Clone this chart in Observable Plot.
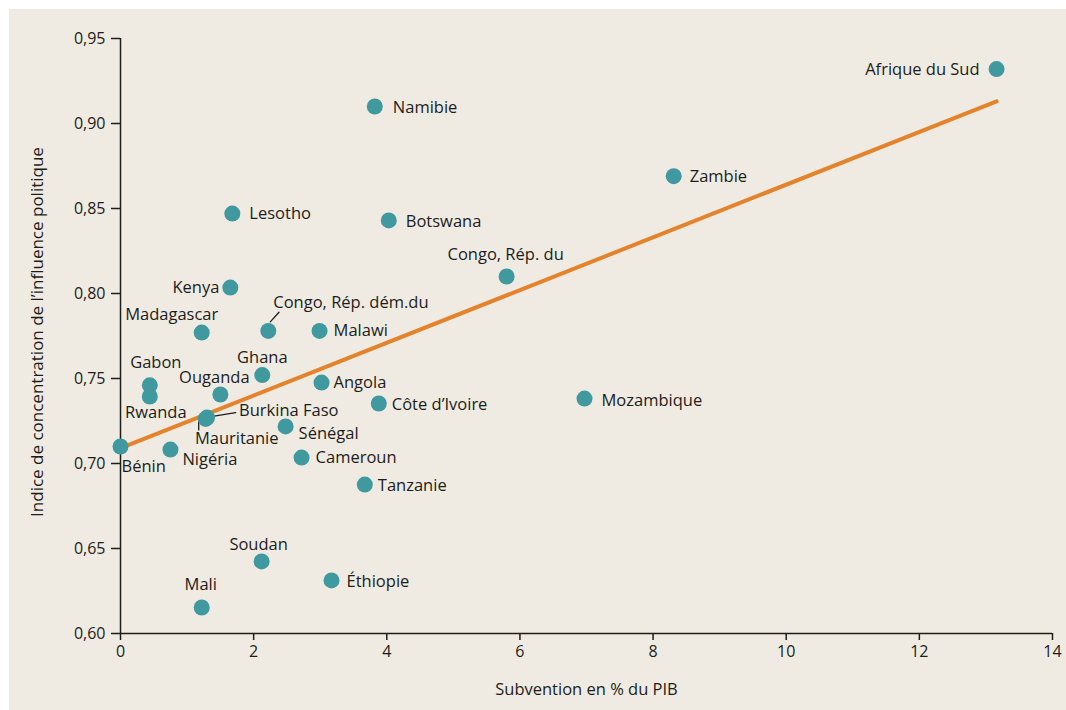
<!DOCTYPE html>
<html><head><meta charset="utf-8">
<script src="https://cdn.jsdelivr.net/npm/d3@7"></script>
<script src="https://cdn.jsdelivr.net/npm/@observablehq/plot@0.6"></script>
<style>
body{margin:0;background:#fff;}
#c{position:absolute;left:9px;top:9px;width:1057px;height:701px;background:#efebe2;}
#c svg{display:block;}
</style></head><body><div id="c"></div>
<script>
const countries = ["Afrique du Sud","Namibie","Zambie","Lesotho","Botswana","Congo, Rép. du","Kenya","Madagascar","Congo, Rép. dém.du","Malawi","Ghana","Gabon","Rwanda","Ouganda","Angola","Côte d’Ivoire","Mozambique","Burkina Faso","Mauritanie","Sénégal","Bénin","Nigéria","Cameroun","Tanzanie","Soudan","Éthiopie","Mali"];
const subvention = [13.16,3.82,8.31,1.68,4.03,5.80,1.65,1.22,2.22,2.99,2.13,0.44,0.44,1.50,3.02,3.88,6.97,1.30,1.28,2.48,0.00,0.75,2.72,3.67,2.12,3.17,1.22];
const indice = [0.932,0.910,0.869,0.847,0.843,0.810,0.8035,0.777,0.778,0.778,0.752,0.746,0.7394,0.7406,0.7476,0.7353,0.7382,0.7270,0.7262,0.7218,0.710,0.7082,0.7035,0.6876,0.6424,0.6312,0.6153];
const trendX = [0, 13.16];
const trendY = [0.709, 0.913];
const xTicks = [0,2,4,6,8,10,12,14];
const yTicks = [0.60,0.65,0.70,0.75,0.80,0.85,0.90,0.95];
const xLabel = "Subvention en % du PIB";
const yLabel = "Indice de concentration de l’influence politique";

// label placement (pixel offsets, anchor)
const placement = {
  "Afrique du Sud":[-17,1,"end"], "Namibie":[18,1,"start"], "Zambie":[16,1,"start"],
  "Lesotho":[17,0,"start"], "Botswana":[17,1,"start"], "Congo, Rép. du":[-1,-22,"middle"],
  "Kenya":[-11,0,"end"], "Madagascar":[-30,-18,"middle"], "Congo, Rép. dém.du":[5,-28,"start"],
  "Malawi":[14,0,"start"], "Ghana":[0,-17,"middle"], "Gabon":[6,-23,"middle"],
  "Rwanda":[6,16,"middle"], "Ouganda":[-6,-17,"middle"], "Angola":[12,0,"start"],
  "Côte d’Ivoire":[13,1,"start"], "Mozambique":[17,2,"start"], "Burkina Faso":[32,-7,"start"],
  "Mauritanie":[31,20,"middle"], "Sénégal":[13,7,"start"], "Bénin":[1,20,"start"],
  "Nigéria":[12,10,"start"], "Cameroun":[14,0,"start"], "Tanzanie":[13,1,"start"],
  "Soudan":[-3,-17,"middle"], "Éthiopie":[15,1,"start"], "Mali":[-1,-23,"middle"]
};
const leaders = [
  {name:"Congo, Rép. dém.du", dx:2, dy:-9, len:13, rot:42},
  {name:"Burkina Faso", dx:4, dy:-1, len:25, rot:81},
  {name:"Mauritanie", dx:-7, dy:2, len:9, rot:180}
];

const data = countries.map((c,i)=>({name:c, x:subvention[i], y:indice[i]}));
const trend = trendX.map((x,i)=>({x, y:trendY[i]}));
const fmtY = d => d3.format(".2f")(d).replace(".", ",");
const font = "'Open Sans', sans-serif";
const teal = "#40999f", orange = "#e5832c", ink = "#1d1d1b";
const labelSize = 16.5;

const labelMarks = data.map(d => {
  const [dx,dy,a] = placement[d.name];
  return Plot.text([d], {x:"x", y:"y", text:"name", textAnchor:a, dx, dy, fill:ink, fontSize:labelSize});
});
const lineShape = {draw(ctx, l){ ctx.moveTo(0,0); ctx.lineTo(0,-l); }};
const leaderMarks = leaders.map(L => Plot.vector(data.filter(d=>d.name===L.name),
  {x:"x", y:"y", length:L.len, rotate:L.rot, anchor:"start", dx:L.dx, dy:L.dy,
   shape: lineShape, stroke: ink, strokeWidth:1.3}));

const chart = Plot.plot({
  width: 1057, height: 701,
  marginLeft: 111, marginTop: 29, marginRight: 14, marginBottom: 77,
  style: {background: "transparent", fontFamily: font, color: ink},
  x: {domain:[0,14]},
  y: {domain:[0.60,0.95]},
  marks: [
    Plot.axisX({ticks: xTicks, tickSize: 7, tickPadding: 5, fontSize: 16, stroke: ink, strokeWidth: 1.5, label: null}),
    Plot.axisY({ticks: yTicks, tickSize: 9, tickPadding: 6, fontSize: 16, tickFormat: fmtY, stroke: ink, strokeWidth: 1.5, label: null}),
    Plot.text([xLabel], {frameAnchor: "bottom", dy: 61, fontSize: 16.5, fill: ink}),
    Plot.text([yLabel], {frameAnchor: "left", textAnchor: "middle", rotate: -90, dx: -83, dy: -4, fontSize: 17, fill: ink}),
    Plot.ruleX([0], {stroke: ink, strokeWidth: 1.5}),
    Plot.ruleY([0.60], {stroke: ink, strokeWidth: 1.5}),
    Plot.line(trend, {x:"x", y:"y", stroke: orange, strokeWidth: 4}),
    ...leaderMarks,
    Plot.dot(data, {x:"x", y:"y", r: 8, fill: teal}),
    ...labelMarks
  ]
});
document.getElementById("c").appendChild(chart);
</script></body></html>
